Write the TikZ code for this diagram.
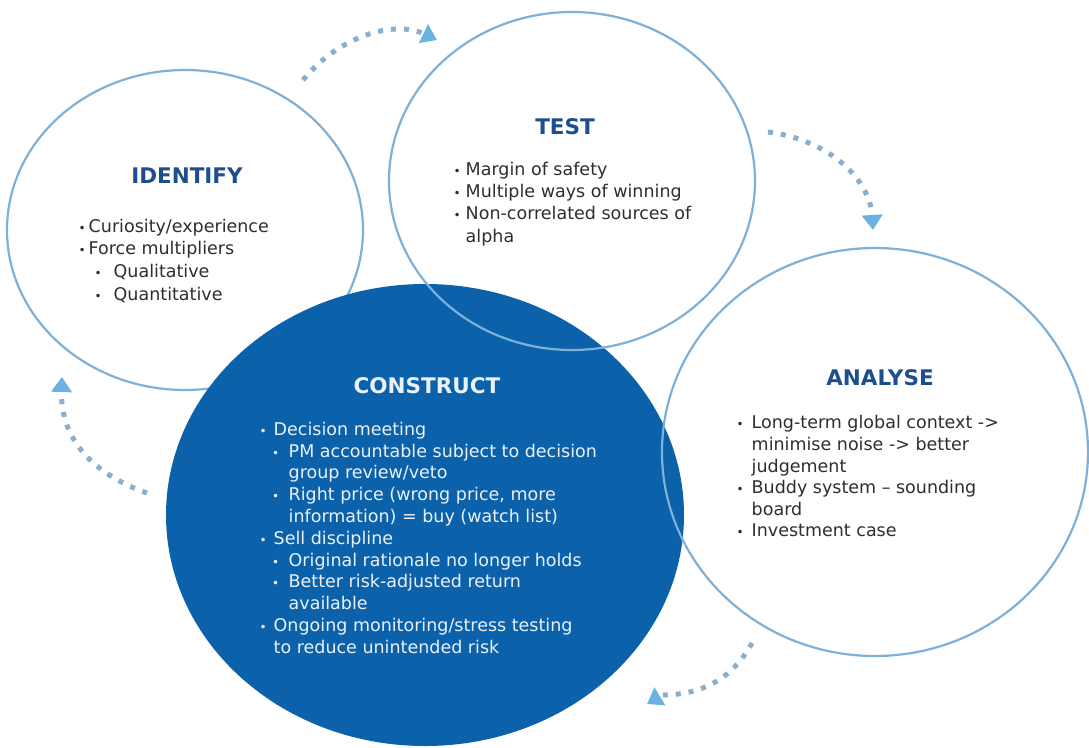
\documentclass[tikz,border=0pt]{standalone}
\usepackage{fontspec}
\setmainfont{DejaVu Sans}
\usetikzlibrary{shapes.geometric,arrows.meta}
\definecolor{ringblue}{HTML}{7EB0D8}
\definecolor{fillblue}{HTML}{0B61AA}
\definecolor{titleblue}{HTML}{1E4E8E}
\definecolor{dotblue}{HTML}{88AED0}
\definecolor{headblue}{HTML}{6AB2E2}
\definecolor{bodytext}{HTML}{2E2E2E}
\definecolor{lighttext}{HTML}{EAF1F8}
\newcommand{\bul}[1]{\makebox[#1][l]{\fontsize{12}{12}\selectfont •}}
\begin{document}
\begin{tikzpicture}[x=1pt,y=-1pt,
  ring/.style={draw=ringblue, line width=2.2pt, shape=ellipse, inner sep=0pt},
  ttl/.style={font=\fontsize{21.5}{26}\selectfont\bfseries, text=titleblue, inner sep=0pt},
  body/.style={font=\fontsize{17.5}{22}\selectfont, text=bodytext, align=left, anchor=north west, inner sep=0pt},
  flow/.style={draw=dotblue, line width=5pt, dash pattern=on 5pt off 8pt,
    -{Triangle[width=20pt,length=15pt,color=headblue]}}]
\useasboundingbox (0,0) rectangle (1089,747);
\fill[white] (0,0) rectangle (1089,747);
% circles
\node[ring, minimum width=356pt, minimum height=320pt] (identify) at (185,230) {};
\node[shape=ellipse, fill=fillblue, inner sep=0pt, minimum width=518pt, minimum height=462pt] (construct) at (425,515) {};
\node[ring, minimum width=366pt, minimum height=338pt] (test) at (572,181) {};
\node[ring, minimum width=426pt, minimum height=408pt] (analyse) at (875,452) {};
% titles
\node[ttl] (identifyT) at (187,176) {IDENTIFY};
\node[ttl] (testT) at (565,127) {TEST};
\node[ttl, text=lighttext] (constructT) at (427,386) {CONSTRUCT};
\node[ttl] (analyseT) at (880,378) {ANALYSE};
% bodies
\node[body, font=\fontsize{17.5}{22.6}\selectfont] (identifyB) at (78.5,216.2) {\strut\bul{10pt}Curiosity/experience\\
\bul{10pt}Force multipliers\\
\hspace*{16pt}\bul{19pt}Qualitative\\
\hspace*{16pt}\bul{19pt}Quantitative};
\node[body, font=\fontsize{17.5}{22.3}\selectfont] (testB) at (453.5,159.4) {\strut\bul{12pt}Margin of safety\\
\bul{12pt}Multiple ways of winning\\
\bul{12pt}Non-correlated sources of\\
\hspace*{12pt}alpha};
\node[body, font=\fontsize{17.5}{21.8}\selectfont, text=lighttext] (constructB) at (259.5,419.8) {\strut\bul{14pt}Decision meeting\\
\hspace*{12.5pt}\bul{16.5pt}PM accountable subject to decision\\
\hspace*{29pt}group review/veto\\
\hspace*{12.5pt}\bul{16.5pt}Right price (wrong price, more\\
\hspace*{29pt}information) = buy (watch list)\\
\bul{14pt}Sell discipline\\
\hspace*{12.5pt}\bul{16.5pt}Original rationale no longer holds\\
\hspace*{12.5pt}\bul{16.5pt}Better risk-adjusted return\\
\hspace*{29pt}available\\
\bul{14pt}Ongoing monitoring/stress testing\\
\hspace*{14pt}to reduce unintended risk};
\node[body, font=\fontsize{17.5}{21.6}\selectfont] (analyseB) at (736.5,413.6) {\strut\bul{15pt}Long-term global context ->\\
\hspace*{15pt}minimise noise -> better\\
\hspace*{15pt}judgement\\
\bul{15pt}Buddy system – sounding\\
\hspace*{15pt}board\\
\bul{15pt}Investment case};
% flow arrows
\coordinate (f1a) at (303,80);
\coordinate (f1b) at (437,40);
\coordinate (f2a) at (768,132);
\coordinate (f2b) at (873,230);
\coordinate (f3a) at (752,643);
\coordinate (f3m) at (662,695);
\coordinate (f3b) at (647,704);
\coordinate (f4a) at (147,493);
\coordinate (f4b) at (62,377);
\draw[flow] (f1a) .. controls (340,35) and (395,20) .. (f1b);
\draw[flow] (f2a) .. controls (830,140) and (870,180) .. (f2b);
\draw[flow] (f3a) .. controls (732,680) and (700,695) .. (f3m) -- (f3b);
\draw[flow] (f4a) .. controls (95,475) and (60,440) .. (f4b);
\end{tikzpicture}
\end{document}
